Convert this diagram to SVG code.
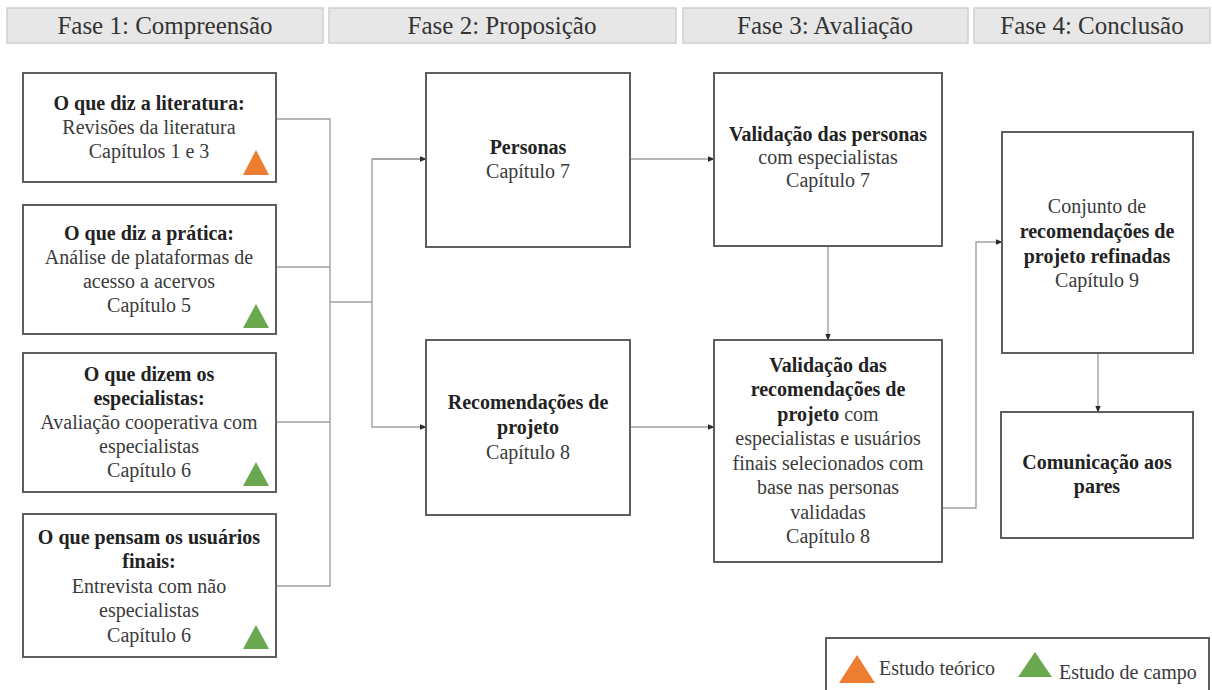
<svg xmlns="http://www.w3.org/2000/svg" width="1212" height="690" viewBox="0 0 1212 690">
<style>
  .bar { fill: #e7e7e7; stroke: #cfcfcf; stroke-width: 1.5; }
  .htxt { font-family: 'Liberation Serif', 'DejaVu Serif', 'Times New Roman', serif; font-size: 25px; fill: #333; text-anchor: middle; }
  .box { fill: #ffffff; stroke: #5e5e5e; stroke-width: 2; }
  .t { font-family: 'Liberation Serif', 'DejaVu Serif', 'Times New Roman', serif; font-size: 20px; fill: #3a3a3a; text-anchor: middle; }
  .b { font-weight: bold; fill: #222; }
  .conn { fill: none; stroke: #a0a0a0; stroke-width: 1.4; }
  .orange { fill: #ed7d31; }
  .green { fill: #6aa84f; }
</style>
<defs>
  <marker id="arr" viewBox="0 0 10 10" refX="9" refY="5" markerWidth="7" markerHeight="7" markerUnits="userSpaceOnUse" orient="auto">
    <path d="M0,1 L10,5 L0,9 Z" fill="#2a2a2a"/>
  </marker>
</defs>
<rect width="1212" height="690" fill="#ffffff"/>

<g id="headers" font-family="Liberation Serif, serif">
  <rect class="bar" x="7" y="8" width="316" height="35"/>
  <text class="htxt" x="165" y="34">Fase 1: Compreensão</text>
  <rect class="bar" x="329" y="8" width="347" height="35"/>
  <text class="htxt" x="502" y="34">Fase 2: Proposição</text>
  <rect class="bar" x="683" y="8" width="285" height="35"/>
  <text class="htxt" x="825" y="34">Fase 3: Avaliação</text>
  <rect class="bar" x="974" y="8" width="236" height="35"/>
  <text class="htxt" x="1092" y="34">Fase 4: Conclusão</text>
</g>

<g id="connectors">
  <polyline class="conn" points="276,119 330,119 330,586 276,586"/>
  <line class="conn" x1="276" y1="267" x2="330" y2="267"/>
  <line class="conn" x1="276" y1="422" x2="330" y2="422"/>
  <line class="conn" x1="330" y1="302" x2="372" y2="302"/>
  <polyline class="conn" points="426,159 372,159 372,427 426,427" marker-end="url(#arr)"/>
  <line class="conn" x1="372" y1="159" x2="426" y2="159" marker-end="url(#arr)"/>
  <line class="conn" x1="630" y1="159" x2="714" y2="159" marker-end="url(#arr)"/>
  <line class="conn" x1="630" y1="427" x2="714" y2="427" marker-end="url(#arr)"/>
  <line class="conn" x1="828" y1="246" x2="828" y2="340" marker-end="url(#arr)"/>
  <polyline class="conn" points="942,508 976,508 976,242 1002,242" marker-end="url(#arr)"/>
  <line class="conn" x1="1098" y1="353" x2="1098" y2="412" marker-end="url(#arr)"/>
</g>

<g id="n-literatura">
  <rect class="box" x="23" y="73" width="253" height="109"/>
  <text class="t b" x="149" y="110">O que diz a literatura:</text>
  <text class="t" x="149" y="134">Revisões da literatura</text>
  <text class="t" x="149" y="158">Capítulos 1 e 3</text>
  <polygon class="orange" points="256,150 269,175 243,175"/>
</g>

<g id="n-pratica">
  <rect class="box" x="23" y="205" width="253" height="129"/>
  <text class="t b" x="149" y="240">O que diz a prática:</text>
  <text class="t" x="149" y="264">Análise de plataformas de</text>
  <text class="t" x="149" y="288">acesso a acervos</text>
  <text class="t" x="149" y="312">Capítulo 5</text>
  <polygon class="green" points="256,304 269,328 243,328"/>
</g>

<g id="n-especialistas">
  <rect class="box" x="23" y="353" width="253" height="139"/>
  <text class="t b" x="149" y="381">O que dizem os</text>
  <text class="t b" x="149" y="405">especialistas:</text>
  <text class="t" x="149" y="429">Avaliação cooperativa com</text>
  <text class="t" x="149" y="453">especialistas</text>
  <text class="t" x="149" y="477">Capítulo 6</text>
  <polygon class="green" points="256,462 269,486 243,486"/>
</g>

<g id="n-usuarios">
  <rect class="box" x="23" y="514" width="253" height="143"/>
  <text class="t b" x="149" y="544">O que pensam os usuários</text>
  <text class="t b" x="149" y="568">finais:</text>
  <text class="t" x="149" y="593">Entrevista com não</text>
  <text class="t" x="149" y="617">especialistas</text>
  <text class="t" x="149" y="642">Capítulo 6</text>
  <polygon class="green" points="256,625 269,649 243,649"/>
</g>

<g id="n-personas">
  <rect class="box" x="426" y="73" width="204" height="174"/>
  <text class="t b" x="528" y="154">Personas</text>
  <text class="t" x="528" y="178">Capítulo 7</text>
</g>

<g id="n-recomendacoes">
  <rect class="box" x="426" y="340" width="204" height="175"/>
  <text class="t b" x="528" y="409">Recomendações de</text>
  <text class="t b" x="528" y="434">projeto</text>
  <text class="t" x="528" y="459">Capítulo 8</text>
</g>

<g id="n-val-personas">
  <rect class="box" x="714" y="73" width="228" height="173"/>
  <text class="t b" x="828" y="141">Validação das personas</text>
  <text class="t" x="828" y="164">com especialistas</text>
  <text class="t" x="828" y="187">Capítulo 7</text>
</g>

<g id="n-val-recomendacoes">
  <rect class="box" x="714" y="340" width="228" height="222"/>
  <text class="t b" x="828" y="372">Validação das</text>
  <text class="t b" x="828" y="396">recomendações de</text>
  <text class="t" x="828" y="421"><tspan class="b">projeto</tspan> com</text>
  <text class="t" x="828" y="445">especialistas e usuários</text>
  <text class="t" x="828" y="470">finais selecionados com</text>
  <text class="t" x="828" y="494">base nas personas</text>
  <text class="t" x="828" y="519">validadas</text>
  <text class="t" x="828" y="543">Capítulo 8</text>
</g>

<g id="n-conjunto">
  <rect class="box" x="1002" y="132" width="191" height="221"/>
  <text class="t" x="1097" y="213">Conjunto de</text>
  <text class="t b" x="1097" y="238">recomendações de</text>
  <text class="t b" x="1097" y="263">projeto refinadas</text>
  <text class="t" x="1097" y="287">Capítulo 9</text>
</g>

<g id="n-comunicacao">
  <rect class="box" x="1001" y="412" width="192" height="126"/>
  <text class="t b" x="1097" y="469">Comunicação aos</text>
  <text class="t b" x="1097" y="493">pares</text>
</g>

<g id="legend">
  <rect x="826" y="638" width="383" height="70" fill="#ffffff" stroke="#5e5e5e" stroke-width="2"/>
  <polygon class="orange" points="857,655 875,683 839,683"/>
  <text class="t" x="879" y="675" style="text-anchor:start">Estudo teórico</text>
  <polygon class="green" points="1035,652 1052,677 1018,677"/>
  <text class="t" x="1059" y="679" style="text-anchor:start">Estudo de campo</text>
</g>
</svg>
